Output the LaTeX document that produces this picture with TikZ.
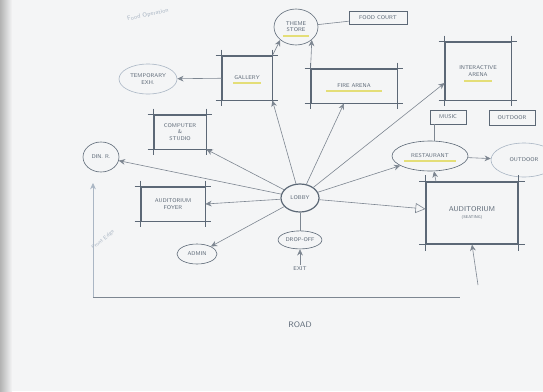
\documentclass[tikz,border=0pt]{standalone}
\usepackage{tikz}
\usetikzlibrary{arrows.meta, positioning, shapes.geometric}

\definecolor{paper}{RGB}{244,245,246}
\definecolor{pencil}{RGB}{92,104,118}
\definecolor{faint}{RGB}{170,182,196}
\definecolor{marker}{RGB}{228,222,120}

\begin{document}
\begin{tikzpicture}[
  x=1pt, y=-1pt,
  lbl/.style={font=\fontsize{5.5}{6.2}\selectfont\sffamily, text=pencil, align=center, inner sep=1pt},
  oval/.style={ellipse, draw=pencil, semithick, lbl},
  tag/.style={rectangle, draw=pencil, thick, lbl},
  sbox/.style={rectangle, draw=pencil, thick, lbl,
    append after command={
      ([xshift=-6pt]\tikzlastnode.north west) edge[draw=pencil, thick] ([xshift=6pt]\tikzlastnode.north east)
      ([xshift=-6pt]\tikzlastnode.south west) edge[draw=pencil, thick] ([xshift=6pt]\tikzlastnode.south east)
      ([yshift=6pt]\tikzlastnode.north west) edge[draw=pencil, thick] ([yshift=-6pt]\tikzlastnode.south west)
      ([yshift=6pt]\tikzlastnode.north east) edge[draw=pencil, thick] ([yshift=-6pt]\tikzlastnode.south east)}},
  link/.style={draw=pencil!80, semithick},
  arrow/.style={link, -{Stealth[length=2.2mm, width=2mm]}},
  bigarrow/.style={link, -{Triangle[open, length=3.5mm, width=3.5mm]}},
  hilite/.style={draw=marker, line width=1.6pt},
]
  % paper
  \fill[paper] (0,0) rectangle (543,391);
  \shade[left color=gray!60, right color=paper] (0,0) rectangle (12,391);
  \clip (0,0) rectangle (543,391);
  \useasboundingbox (0,0) rectangle (543,391);

  % upper floor
  \node[oval, minimum width=44, minimum height=36] (theme) at (296,27) {THEME\\STORE};
  \node[tag, minimum width=58, minimum height=13] (food) at (378,18) {FOOD COURT};
  \node[oval, draw=faint, minimum width=58, minimum height=30] (temp) at (148,79) {TEMPORARY\\EXH.};
  \node[sbox, minimum width=50, minimum height=44] (gal) at (247,78) {GALLERY};
  \node[sbox, minimum width=86, minimum height=34] (fire) at (354,86) {FIRE ARENA};
  \node[sbox, minimum width=66, minimum height=58] (inter) at (478,71) {INTERACTIVE\\ARENA};
  \node[tag, minimum width=36, minimum height=14] (music) at (448,117) {MUSIC};
  \node[tag, minimum width=46, minimum height=15] (outbox) at (512,118) {OUTDOOR};

  % ground floor
  \node[oval, minimum width=76, minimum height=30] (rest) at (430,156) {RESTAURANT};
  \node[oval, draw=faint, minimum width=66, minimum height=34] (outd) at (524,160) {OUTDOOR};
  \node[sbox, very thick, minimum width=92, minimum height=62] (aud) at (472,213) {\fontsize{7}{8}\selectfont AUDITORIUM\\{\fontsize{4}{5}\selectfont (SEATING)}};
  \node[oval, very thick, minimum width=38, minimum height=28] (lobby) at (300,198) {LOBBY};
  \node[oval, minimum width=40, minimum height=18, below=18pt of lobby] (drop) {DROP-OFF};
  \node[lbl, below=16pt of drop] (exit) {EXIT};
  \node[oval, minimum width=40, minimum height=20] (admin) at (197,254) {ADMIN};
  \node[sbox, minimum width=64, minimum height=34] (foyer) at (173,204) {AUDITORIUM\\FOYER};
  \node[sbox, minimum width=52, minimum height=34] (comp) at (180,132) {COMPUTER\\\&\\STUDIO};
  \node[oval, minimum width=36, minimum height=30] (din) at (101,157) {DIN. R.};

  % marker strokes
  \draw[hilite] ([yshift=-9pt]theme.center) +(-13,0) -- +(13,0);
  \draw[hilite] ([yshift=-5pt]gal.center) +(-14,0) -- +(14,0);
  \draw[hilite] ([yshift=-5pt]fire.center) +(-28,0) -- +(28,0);
  \draw[hilite] ([yshift=-10pt]inter.center) +(-14,0) -- +(14,0);
  \draw[hilite] ([yshift=-5pt]rest.center) +(-26,0) -- +(26,0);

  % site
  \coordinate (roadw) at (93,297);
  \coordinate (roade) at (460,297);
  \coordinate (edge) at (93,183);
  \coordinate (audin) at (478,285);
  \draw[link] (roadw) -- (roade);
  \draw[arrow, draw=faint] (roadw) -- (edge);
  \node[lbl, font=\fontsize{8}{9}\selectfont\sffamily] (road) at (300,325) {ROAD};
  \node[lbl, text=faint, rotate=40] (front) at (103,240) {Front Edge};
  \node[lbl, text=faint, font=\fontsize{6}{7}\selectfont\sffamily, rotate=12] (ops) at (148,15) {Food Operation};

  % connectors
  \draw[link] (theme) -- (food);
  \draw[arrow] (gal) -- (temp);
  \draw[arrow] (gal.north east) -- (theme.south west);
  \draw[arrow] (fire.north west) -- (theme.south east);
  \draw[arrow] (lobby) -- (gal.south east);
  \draw[arrow] (lobby) -- ([xshift=-10pt]fire.south);
  \draw[arrow] (lobby) -- ([yshift=-12pt]inter.west);
  \draw[arrow] (lobby) -- (rest);
  \draw[bigarrow] (lobby) -- (aud);
  \draw[arrow] (rest) -- (outd);
  \draw[link] ([xshift=-14pt]music.south) -- ([xshift=4pt]rest.north);
  \draw[arrow] ([xshift=-36pt]aud.north) -- ([xshift=4pt]rest.south);
  \draw[arrow] (audin) -- (aud.south);
  \draw[arrow] (lobby) -- (comp.south east);
  \draw[arrow] (lobby) -- (din);
  \draw[arrow] (lobby) -- (foyer.east);
  \draw[arrow] (lobby) -- (admin);
  \draw[link] (lobby) -- (drop);
  \draw[arrow] (exit) -- (drop);
\end{tikzpicture}
\end{document}
